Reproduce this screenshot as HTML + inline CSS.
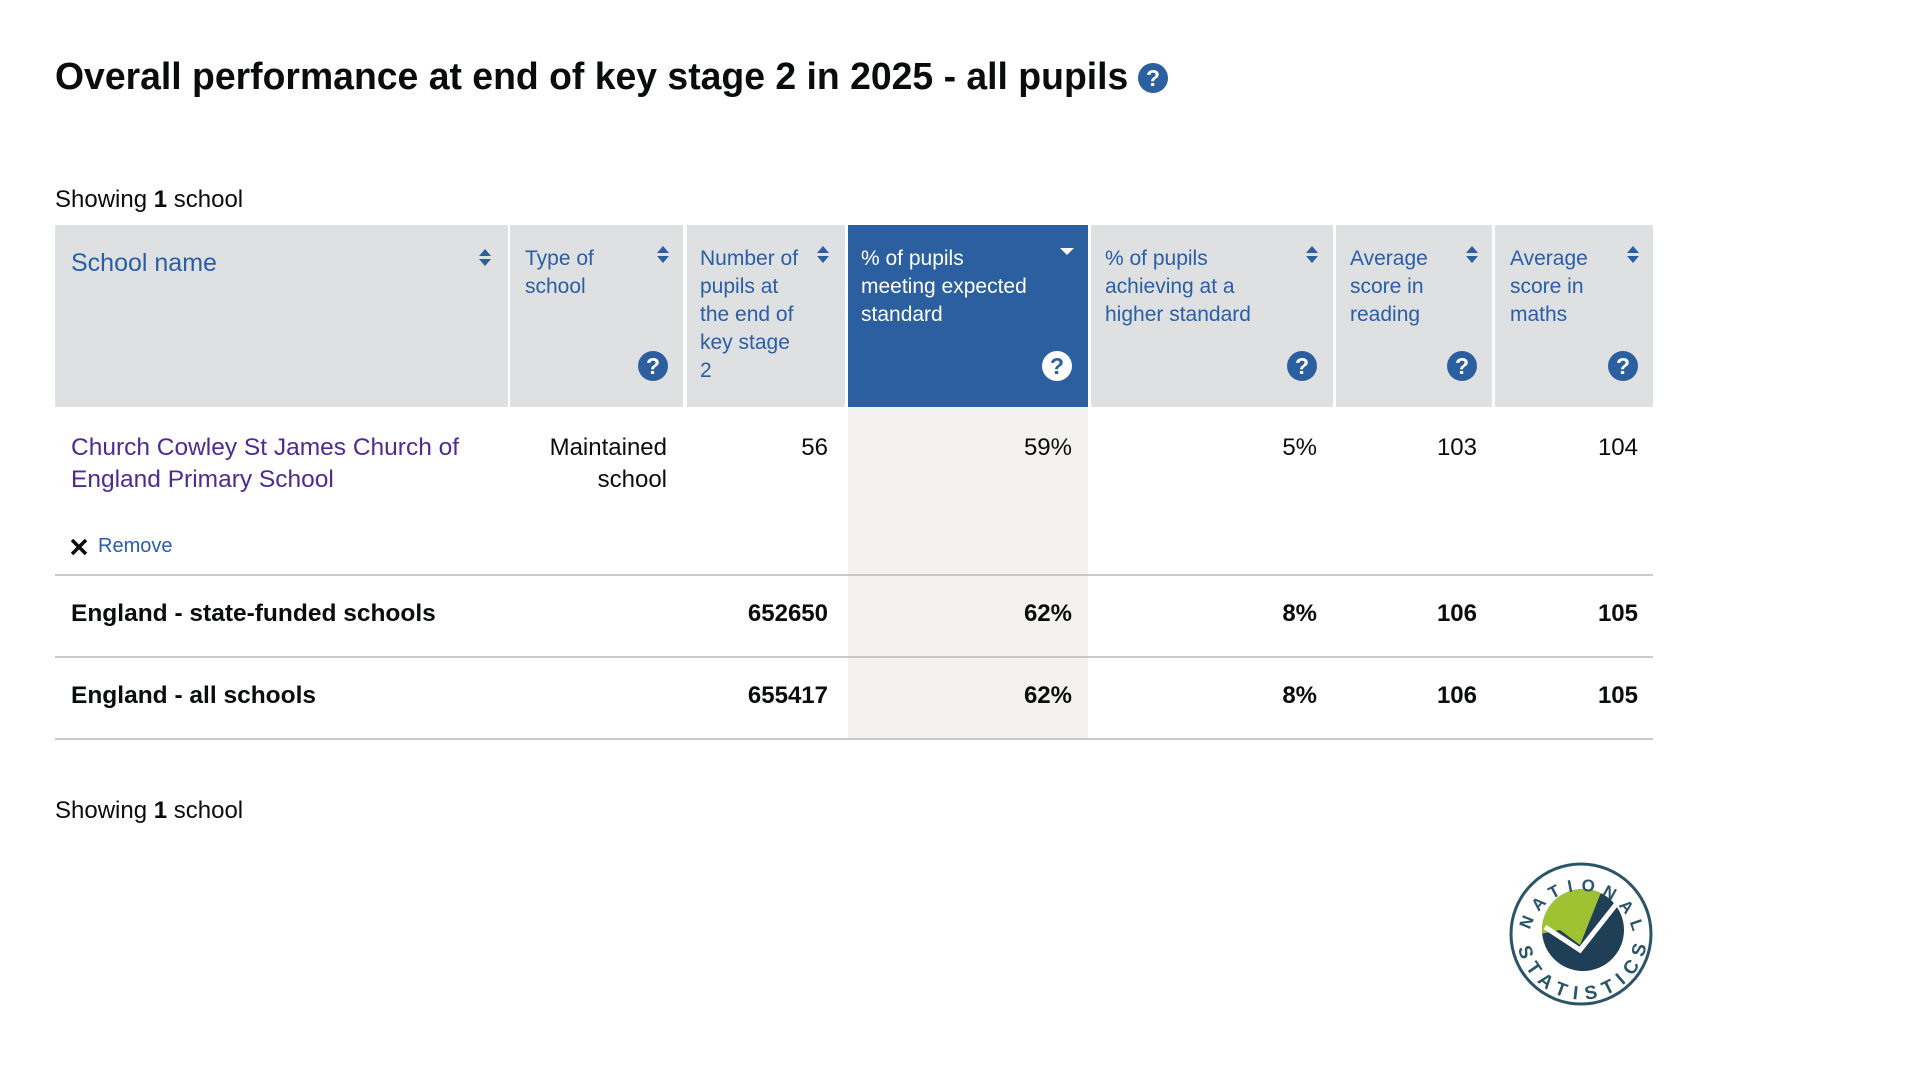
<!DOCTYPE html>
<html><head><meta charset="utf-8"><style>
*{margin:0;padding:0;box-sizing:border-box}
body{width:1920px;height:1067px;background:#fff;position:relative;overflow:hidden;font-family:"Liberation Sans",Arial,sans-serif;color:#0b0c0c}
.a{position:absolute;white-space:nowrap}
.h{position:absolute;top:225px;height:182px;background:#dee0e2}
.ht{position:absolute;color:#2a5ea6;font-size:21px;line-height:28px;white-space:nowrap}
.q{position:absolute;width:30px;height:30px;border-radius:50%;background:#2b5f9f;color:#fff;font-weight:bold;font-size:23px;line-height:30px;text-align:center}
.r{position:absolute;font-size:24px;text-align:right;white-space:nowrap}
.b{font-weight:bold}
.line{position:absolute;left:55px;width:1598px;height:2px;background:#c8c9ca}
</style></head><body>
<div class="a b" style="left:55px;top:54px;font-size:38px;line-height:46px;transform:scaleX(0.983);transform-origin:left">Overall performance at end of key stage 2 in 2025 - all pupils</div>
<div class="q" style="left:1138px;top:63px;">?</div>

<div class="a" style="left:55px;top:186px;font-size:24px">Showing <b>1</b> school</div>

<div class="h" style="left:55px;width:453px"></div>
<div class="h" style="left:510px;width:173px"></div>
<div class="h" style="left:687px;width:158px"></div>
<div class="h" style="left:848px;width:240px;background:#2b5f9f"></div>
<div class="h" style="left:1091px;width:242px"></div>
<div class="h" style="left:1336px;width:156px"></div>
<div class="h" style="left:1495px;width:158px"></div>
<div style="position:absolute;left:848px;top:407px;width:240px;height:331px;background:#f3f2f1"></div>

<div class="ht" style="left:71px;top:249px;font-size:25px">School name</div>
<div class="ht" style="left:525px;top:245px">Type of<br>school</div>
<div class="ht" style="left:700px;top:245px">Number of<br>pupils at<br>the end of<br>key stage<br>2</div>
<div class="ht" style="left:861px;top:245px;color:#fff">% of pupils<br>meeting expected<br>standard</div>
<div class="ht" style="left:1105px;top:245px">% of pupils<br>achieving at a<br>higher standard</div>
<div class="ht" style="left:1350px;top:245px">Average<br>score in<br>reading</div>
<div class="ht" style="left:1510px;top:245px">Average<br>score in<br>maths</div>

<div class="q" style="left:638px;top:351px">?</div>
<div class="q" style="left:1042px;top:351px;background:#fff;color:#2b5f9f">?</div>
<div class="q" style="left:1287px;top:351px">?</div>
<div class="q" style="left:1447px;top:351px">?</div>
<div class="q" style="left:1608px;top:351px">?</div>

<svg style="position:absolute;left:0;top:0" width="1920" height="1067">
<g fill="#2b5f9f">
<path d="M479 256 l6 -7 l6 7z M479 259 l6 7 l6 -7z"/>
<path d="M657 253 l6 -7 l6 7z M657 256 l6 7 l6 -7z"/>
<path d="M817 253 l6 -7 l6 7z M817 256 l6 7 l6 -7z"/>
<path d="M1306 253 l6 -7 l6 7z M1306 256 l6 7 l6 -7z"/>
<path d="M1466 253 l6 -7 l6 7z M1466 256 l6 7 l6 -7z"/>
<path d="M1627 253 l6 -7 l6 7z M1627 256 l6 7 l6 -7z"/>
</g>
<path d="M1060 248 l7 7 l7 -7z" fill="#fff"/>
<path d="M72 540 l14 14 M86 540 l-14 14" stroke="#0b0c0c" stroke-width="3.5"/>
<circle cx="1581" cy="934" r="70" fill="#fff" stroke="#2c5468" stroke-width="3"/>
<clipPath id="c"><circle cx="1583" cy="930" r="41"/></clipPath>
<g clip-path="url(#c)">
<rect x="1535" y="880" width="100" height="100" fill="#1f3f56"/>
<path d="M1535 880 L1610 880 L1600 895 L1580 945 L1560 930 L1535 935z" fill="#9ec232"/>
<path d="M1545 927 L1580 950 L1625 893" stroke="#fff" stroke-width="5" fill="none"/>
</g>
<defs>
<path id="arc" d="M1530 930 A53 53 0 0 1 1634 940"/>
<path id="arc2" d="M1518 948 A65 65 0 0 0 1646 920"/>
</defs>
<text font-family="Liberation Sans" font-weight="bold" font-size="17" fill="#2c5468"><textPath href="#arc" textLength="140">NATIONAL</textPath></text>
<text font-family="Liberation Sans" font-weight="bold" font-size="19" fill="#2c5468"><textPath href="#arc2" textLength="180">STATISTICS</textPath></text>
</svg>

<div class="a" style="left:71px;top:432px;font-size:24.5px;line-height:32px;color:#4c2c92">Church Cowley St James Church of<br>England Primary School</div>
<div class="a" style="left:98px;top:535px;font-size:20px;color:#2a5ea6">Remove</div>
<div class="r" style="right:1253px;top:432px;line-height:32px">Maintained<br>school</div>
<div class="r" style="right:1092px;top:432px;line-height:32px">56</div>
<div class="r" style="right:848px;top:432px;line-height:32px">59%</div>
<div class="r" style="right:603px;top:432px;line-height:32px">5%</div>
<div class="r" style="right:443px;top:432px;line-height:32px">103</div>
<div class="r" style="right:282px;top:432px;line-height:32px">104</div>
<div class="line" style="top:574px"></div>

<div class="a b" style="left:71px;top:600px;font-size:24.5px">England - state-funded schools</div>
<div class="r b" style="right:1092px;top:600px">652650</div>
<div class="r b" style="right:848px;top:600px">62%</div>
<div class="r b" style="right:603px;top:600px">8%</div>
<div class="r b" style="right:443px;top:600px">106</div>
<div class="r b" style="right:282px;top:600px">105</div>
<div class="line" style="top:656px"></div>

<div class="a b" style="left:71px;top:682px;font-size:24.5px">England - all schools</div>
<div class="r b" style="right:1092px;top:682px">655417</div>
<div class="r b" style="right:848px;top:682px">62%</div>
<div class="r b" style="right:603px;top:682px">8%</div>
<div class="r b" style="right:443px;top:682px">106</div>
<div class="r b" style="right:282px;top:682px">105</div>
<div class="line" style="top:738px"></div>

<div class="a" style="left:55px;top:797px;font-size:24px">Showing <b>1</b> school</div>
</body></html>
